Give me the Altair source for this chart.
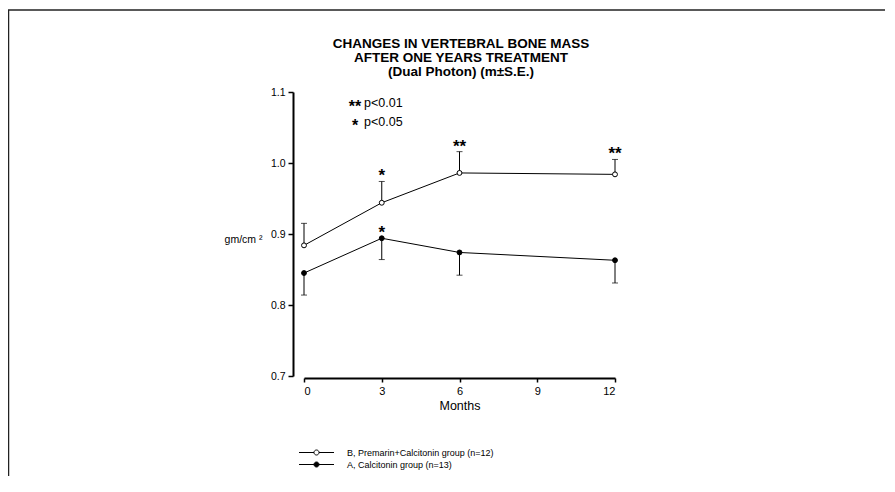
import altair as alt
import pandas as pd

FONT = "Liberation Sans"

# ---- data ----
months = [0, 3, 6, 12]
group_b = "B,  Premarin+Calcitonin group (n=12)"
group_a = "A, Calcitonin group (n=13)"
b_mean = [0.884, 0.944, 0.986, 0.984]
b_se_end = [0.915, 0.974, 1.016, 1.005]
a_mean = [0.845, 0.894, 0.874, 0.863]
a_se_end = [0.814, 0.864, 0.842, 0.831]

star_month = [3, 6, 12, 3]
star_anchor = [0.974, 1.016, 1.005, 0.894]
star_text = ["*", "**", "**", "*"]

key_star = ["**", "*"]
key_text = ["p<0.01", "p<0.05"]

x_ticks = [0, 3, 6, 9, 12]
y_ticks = [0.7, 0.8, 0.9, 1.0, 1.1]

title_lines = ["CHANGES IN VERTEBRAL BONE MASS", "AFTER ONE YEARS TREATMENT", "(Dual Photon) (m\u00b1S.E.)"]

# ---- tables ----
df = pd.concat([
    pd.DataFrame({"month": months, "group": group_b, "mean": b_mean, "end": b_se_end}),
    pd.DataFrame({"month": months, "group": group_a, "mean": a_mean, "end": a_se_end}),
], ignore_index=True)
stars = pd.DataFrame({"month": star_month, "anchor": star_anchor, "txt": star_text})

x_axis = alt.Axis(values=x_ticks, title="Months", offset=2, grid=False, tickSize=4,
                  domainWidth=2, tickWidth=1.5, labelFontSize=11, titleFontSize=12.5,
                  titleFontWeight="normal", labelPadding=3, titlePadding=3,
                  domainColor="black", tickColor="black", labelColor="black",
                  titleColor="black", labelFont=FONT, titleFont=FONT, labelAngle=0)
y_axis = alt.Axis(values=y_ticks, format=".1f", offset=11, grid=False, tickSize=5,
                  domainWidth=2, tickWidth=1.5, labelFontSize=10.5, labelPadding=3,
                  domainColor="black", tickColor="black", labelColor="black",
                  title="gm/cm \u00b2", titleAngle=0, titleX=-50, titleY=147,
                  titleAlign="center", titleBaseline="middle", titleFontSize=10.5,
                  titleFontWeight="normal", titleColor="black", titleFont=FONT,
                  labelFont=FONT)
xs = alt.Scale(domain=[0, 12], nice=False)
ys = alt.Scale(domain=[0.7, 1.1], nice=False, zero=False)

def X():
    return alt.X("month:Q", scale=xs, axis=x_axis)

lines = alt.Chart(df).mark_line(color="black", strokeWidth=1).encode(
    x=X(), y=alt.Y("mean:Q", scale=ys, axis=y_axis), detail="group:N")

err = alt.Chart(df).mark_rule(color="black", strokeWidth=1).encode(
    x=X(), y=alt.Y("mean:Q", scale=ys, axis=y_axis), y2="end:Q")

caps = alt.Chart(df).mark_tick(color="black", orient="horizontal", size=6, thickness=1).encode(
    x=X(), y=alt.Y("end:Q", scale=ys, axis=y_axis))

# legend glyph: a short line with a circle in its middle
sym_path = ("M-7,0H-1M1,0H7M-1,0A1,1,0,1,1,1,0A1,1,0,1,1,-1,0Z")

points = alt.Chart(df).mark_point(shape="circle", size=24, stroke="black",
                                  strokeWidth=1, opacity=1, filled=True).encode(
    x=X(), y=alt.Y("mean:Q", scale=ys, axis=y_axis),
    fill=alt.Fill("group:N",
                  scale=alt.Scale(domain=[group_b, group_a], range=["white", "black"]),
                  legend=alt.Legend(title=None, orient="none", legendX=8, legendY=356,
                                    symbolType=sym_path, symbolSize=25,
                                    symbolStrokeColor="black", symbolStrokeWidth=1,
                                    labelFont=FONT, labelFontSize=9, labelColor="black",
                                    labelOffset=26, rowPadding=2, padding=0)))

star_marks = alt.Chart(stars).mark_text(fontSize=17, font=FONT, fontWeight="bold",
                                         color="black", baseline="middle", dy=-5).encode(
    x=X(), y=alt.Y("anchor:Q", scale=ys, axis=y_axis), text="txt:N")

layers = [lines, err, caps, points, star_marks]

# key of significance marks
key_y = [15, 34]
key_ty = [11, 30]
for i in range(len(key_star)):
    layers.append(alt.Chart(pd.DataFrame({"t": [key_star[i]]})).mark_text(
        fontSize=16, font=FONT, fontWeight="bold", color="black", align="center",
        baseline="middle").encode(x=alt.value(51), y=alt.value(key_y[i]), text="t:N"))
    layers.append(alt.Chart(pd.DataFrame({"t": [key_text[i]]})).mark_text(
        fontSize=12.5, font=FONT, color="black", align="left",
        baseline="middle").encode(x=alt.value(60), y=alt.value(key_ty[i]), text="t:N"))

# title lines
title_y = [-48, -34, -20]
for i in range(len(title_lines)):
    layers.append(alt.Chart(pd.DataFrame({"t": [title_lines[i]]})).mark_text(
        fontSize=13.5, font=FONT, fontWeight="bold", color="black", align="center",
        baseline="middle").encode(x=alt.value(157), y=alt.value(title_y[i]), text="t:N"))

# scan frame (left and top border)
one = pd.DataFrame({"k": [0]})
layers.append(alt.Chart(one).mark_rule(color="#222", strokeWidth=1.5).encode(
    x=alt.value(-295.5), y=alt.value(-82), y2=alt.value(420)))
layers.append(alt.Chart(one).mark_rule(color="#222", strokeWidth=1.5).encode(
    x=alt.value(-296), x2=alt.value(600), y=alt.value(-82)))

chart = alt.layer(*layers).properties(
    width=311, height=284,
    autosize=alt.AutoSizeParams(type="none"),
    padding={"left": 296, "top": 84, "right": 270, "bottom": 100},
    background="white",
).configure_view(strokeWidth=0)

chart.save("out.html", embed_options={"renderer": "svg", "actions": False})
